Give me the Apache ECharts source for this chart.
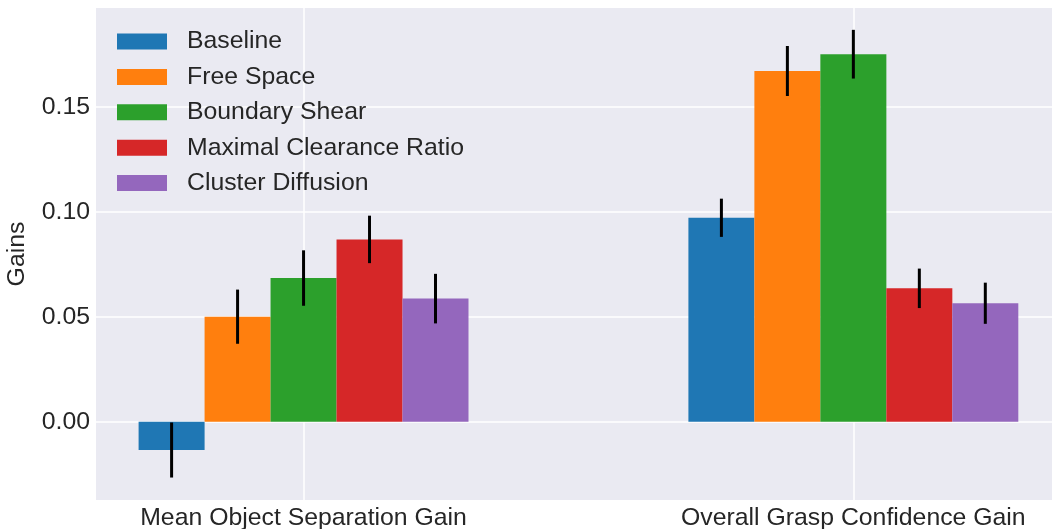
<!DOCTYPE html>
<html>
<head>
<meta charset="utf-8">
<style>
  html, body { margin: 0; padding: 0; background: #ffffff; }
  #chart { width: 1052px; height: 529px; }
</style>
<script src="https://cdn.jsdelivr.net/npm/echarts@6/dist/echarts.min.js"></script>
</head>
<body>
<div id="chart"></div>
<script>
// ---- data ----
const categories = ['Mean Object Separation Gain', 'Overall Grasp Confidence Gain'];
const categoryPositions = [0, 1];
const seriesNames = ['Baseline', 'Free Space', 'Boundary Shear', 'Maximal Clearance Ratio', 'Cluster Diffusion'];
const seriesColors = ['#1f77b4', '#ff7f0e', '#2ca02c', '#d62728', '#9467bd'];
const barOffsets = [-0.24, -0.12, 0, 0.12, 0.24];
const baselineValues = [-0.0135, 0.0971];
const freeSpaceValues = [0.0500, 0.1670];
const boundaryShearValues = [0.0684, 0.1750];
const maximalClearanceValues = [0.0868, 0.0635];
const clusterDiffusionValues = [0.0586, 0.0564];
const baselineErrors = [0.0131, 0.0091];
const freeSpaceErrors = [0.0129, 0.0119];
const boundaryShearErrors = [0.0132, 0.0116];
const maximalClearanceErrors = [0.0113, 0.0094];
const clusterDiffusionErrors = [0.0118, 0.0098];
const yTickValues = [0, 0.05, 0.10, 0.15];

const allValues = [baselineValues, freeSpaceValues, boundaryShearValues, maximalClearanceValues, clusterDiffusionValues];
const allErrors = [baselineErrors, freeSpaceErrors, boundaryShearErrors, maximalClearanceErrors, clusterDiffusionErrors];

const FONT = '"Liberation Sans", Arial, Helvetica, sans-serif';
const TXT = '#262626';
const FS = 24.8;

const series = [];
// vertical grid lines at category positions (behind bars)
series.push({
  type: 'line',
  data: [],
  silent: true,
  z: 0,
  markLine: {
    silent: true,
    z: 0,
    symbol: 'none',
    label: { show: false },
    lineStyle: { color: '#ffffff', width: 1.5, type: 'solid' },
    data: categoryPositions.map(p => ({ xAxis: p }))
  }
});
seriesNames.forEach((name, i) => {
  series.push({
    name: name,
    type: 'bar',
    barWidth: 66,
    barGap: '-100%',
    itemStyle: { color: seriesColors[i] },
    z: 3,
    data: categoryPositions.map((p, j) => [p + barOffsets[i], allValues[i][j]])
  });
});
seriesNames.forEach((name, i) => {
  series.push({
    type: 'custom',
    z: 5,
    silent: true,
    data: categoryPositions.map((p, j) => [p + barOffsets[i], allValues[i][j], allErrors[i][j]]),
    renderItem: function (params, api) {
      const x = api.value(0), v = api.value(1), e = api.value(2);
      const a = api.coord([x, v - e]);
      const b = api.coord([x, v + e]);
      return {
        type: 'line',
        shape: { x1: a[0], y1: a[1], x2: b[0], y2: b[1] },
        style: { stroke: '#000000', lineWidth: 3 }
      };
    }
  });
});

const chart = echarts.init(document.getElementById('chart'), null, { renderer: 'canvas' });
chart.setOption({
  animation: false,
  backgroundColor: '#ffffff',
  textStyle: { fontFamily: FONT, color: TXT },
  grid: {
    left: 96, right: 0, top: 8, bottom: 29,
    outerBoundsMode: 'none',
    containLabel: false,
    show: true, backgroundColor: '#EAEAF2', borderWidth: 0
  },
  legend: {
    data: seriesNames.map(n => ({ name: n, icon: 'rect' })),
    orient: 'vertical',
    left: 117,
    top: 29,
    padding: 0,
    itemWidth: 50,
    itemHeight: 16,
    itemGap: 10.4,
    textStyle: { fontFamily: FONT, fontSize: FS, color: TXT, lineHeight: 25, padding: [0, 0, 0, 15] }
  },
  xAxis: {
    type: 'value',
    min: -0.3775,
    max: 1.3613,
    axisLine: { show: false },
    axisTick: { show: false },
    splitLine: { show: false },
    axisLabel: {
      customValues: categoryPositions,
      formatter: function (v) {
        const idx = categoryPositions.indexOf(Math.round(v));
        return idx >= 0 ? categories[idx] : '';
      },
      fontFamily: FONT, fontSize: FS, color: TXT, margin: 6
    }
  },
  yAxis: {
    type: 'value',
    min: -0.0373,
    max: 0.197,
    name: 'Gains',
    nameLocation: 'middle',
    nameGap: 66,
    nameTextStyle: { fontFamily: FONT, fontSize: FS, color: TXT },
    axisLine: { show: false },
    axisTick: { show: false, customValues: yTickValues },
    splitLine: { show: true, lineStyle: { color: '#ffffff', width: 1.5 } },
    axisLabel: {
      customValues: yTickValues,
      formatter: v => v.toFixed(2),
      fontFamily: FONT, fontSize: FS, color: TXT, margin: 6
    }
  },
  series: series
});
</script>
</body>
</html>
